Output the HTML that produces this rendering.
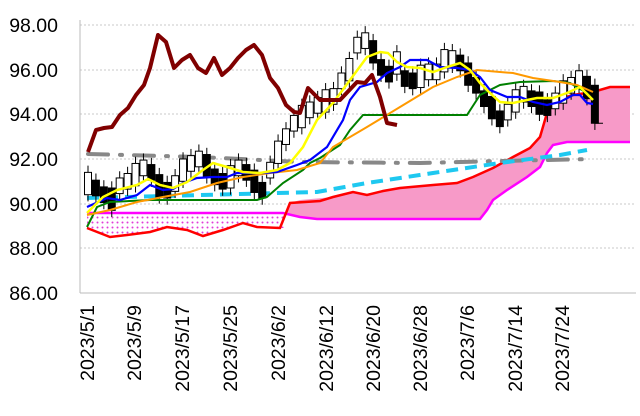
<!DOCTYPE html>
<html><head><meta charset="utf-8"><style>
html,body{margin:0;padding:0;background:#fff;}
svg{display:block;font-family:"Liberation Sans",sans-serif;}
</style></head><body>
<svg id="c" width="640" height="416" viewBox="0 0 640 416" xmlns="http://www.w3.org/2000/svg">
<defs>
<pattern id="dots" width="5" height="5" patternUnits="userSpaceOnUse">
<rect width="5" height="5" fill="#fff"/><circle cx="2.5" cy="2.5" r="1" fill="#e23ad8"/></pattern>
</defs>
<g stroke="#c8c8c8" stroke-width="1" stroke-dasharray="2,2">
<line x1="80" y1="25" x2="636" y2="25"/><line x1="80" y1="70" x2="636" y2="70"/>
<line x1="80" y1="114" x2="636" y2="114"/><line x1="80" y1="159" x2="636" y2="159"/>
<line x1="80" y1="204" x2="636" y2="204"/><line x1="80" y1="248" x2="636" y2="248"/>
</g>
<line x1="80" y1="293" x2="636" y2="293" stroke="#bbb"/>
<line x1="80" y1="20" x2="80" y2="293" stroke="#bbb"/>
<g font-size="19.5" text-anchor="end" fill="#000">
<text x="58" y="32">98.00</text><text x="58" y="77">96.00</text><text x="58" y="121">94.00</text>
<text x="58" y="166">92.00</text><text x="58" y="211">90.00</text><text x="58" y="255">88.00</text>
<text x="58" y="300">86.00</text>
</g>
<g font-size="19.5" fill="#000" text-anchor="end" textLength="83">
<text transform="translate(94,305) rotate(-90)">2023/5/1</text>
<text transform="translate(141,305) rotate(-90)">2023/5/9</text>
<text transform="translate(189,305) rotate(-90)">2023/5/17</text>
<text transform="translate(237,305) rotate(-90)">2023/5/25</text>
<text transform="translate(285,305) rotate(-90)">2023/6/2</text>
<text transform="translate(333,305) rotate(-90)">2023/6/12</text>
<text transform="translate(380,305) rotate(-90)">2023/6/20</text>
<text transform="translate(427,305) rotate(-90)">2023/6/28</text>
<text transform="translate(474,305) rotate(-90)">2023/7/6</text>
<text transform="translate(522,305) rotate(-90)">2023/7/14</text>
<text transform="translate(569,305) rotate(-90)">2023/7/24</text>
</g>
<polygon fill="url(#dots)" points="87,213 285,213 285,228 280,228 257,227 243,223 223,230 203,236 187,230 167,227 150,232 127,235 110,237 87,228"/>
<polygon fill="#f79ac8" points="285,213 300,217 317,219 480,219 487,210 493,200 507,190 527,177 540,167 547,153 553,145 567,142 630,142 630,87 610,87 593,92 573,95 557,100 547,113 540,137 530,148 513,157 493,168 473,177 457,183 433,185 400,188 383,191 367,195 353,192 333,197 300,200 290,203"/>
<polyline fill="none" stroke="#ff00ff" stroke-width="2.5" points="87,213 283,213 300,217 317,219 480,219 487,210 493,200 507,190 527,177 540,167 547,153 553,145 567,142 630,142"/>
<polyline fill="none" stroke="#ff0000" stroke-width="2.5" points="87,228 110,237 127,235 150,232 167,227 187,230 203,236 223,230 243,223 257,227 280,228 290,203 320,201 333,197 353,192 367,195 383,191 400,188 433,185 457,183 473,177 493,168 513,157 530,148 540,137 547,113 557,100 573,95 593,92 610,87 630,87"/>
<polyline fill="none" stroke="#888" stroke-width="4" stroke-dasharray="20,12,2,12" stroke-linecap="round" points="88,154 200,157 300,162 420,163 500,161 593,159"/>
<polyline fill="none" stroke="#1ec8f0" stroke-width="4" stroke-dasharray="12,7" points="87,198 317,192 367,183 433,173 500,163 560,155 587,150"/>
<g id="candles"></g>
<polyline fill="none" stroke="#008000" stroke-width="2" points="87,227 97,207 110,202 150,200 257,200 267,197 283,183 303,170 310,163 320,158 340,145 350,130 363,115 467,115 480,95 500,85 520,82 553,81 570,83 587,93 593,100"/>
<polyline fill="none" stroke="#ff9900" stroke-width="2" points="87,215 110,210 137,202 163,197 190,192 217,183 243,177 270,173 297,170 320,163 333,147 367,127 400,107 433,87 457,77 477,70 500,72 513,73 533,78 560,82 577,85 593,92"/>
<polyline fill="none" stroke="#0000ff" stroke-width="2.2" points="87,207 107,198 120,200 137,195 150,185 163,190 173,189 183,183 197,178 213,177 227,177 237,173 250,173 263,173 277,172 297,165 310,160 327,147 343,120 350,100 360,87 377,82 387,73 400,67 410,60 427,60 440,67 457,68 470,70 480,77 490,90 507,97 520,97 533,102 547,105 560,102 573,95 580,95 587,103 593,104"/>
<polyline fill="none" stroke="#ffff00" stroke-width="2.5" points="87,213 103,197 117,190 137,185 148,179 160,185 173,188 187,182 203,170 213,163 227,167 243,172 260,173 277,170 290,163 303,147 317,120 333,103 350,80 367,57 380,52 388,53 397,62 407,67 420,68 433,72 447,67 460,63 470,70 480,83 490,93 500,102 513,103 527,100 537,98 553,98 567,93 580,87 593,100"/>
<polyline fill="none" stroke="#800000" stroke-width="4" stroke-linejoin="round" points="88,152 96,130 104,128 112,127 120,115 128,108 136,95 144,85 150,68 158,35 166,42 174,68 182,60 190,55 198,68 206,73 214,58 222,75 230,68 238,58 246,50 254,45 262,55 270,78 278,88 286,105 294,112 300,113 308,88 320,100 340,100 357,82 365,83 372,75 380,97 387,123 397,125"/>
</svg>
<script>
(function(){
var m=[90.9,90.7,90.4,90.2,90.8,91.0,91.3,91.6,91.4,90.8,90.6,90.9,91.5,91.8,92.0,91.7,91.2,91.0,91.2,91.6,91.4,91.0,90.6,91.5,92.3,93.0,93.6,93.9,94.2,94.4,94.6,94.8,95.5,96.0,97.1,97.3,96.8,96.1,95.8,96.3,95.6,95.5,95.7,95.9,95.9,96.4,96.5,96.3,95.8,95.3,94.7,94.3,93.8,94.1,94.6,94.9,94.7,94.5,94.3,94.6,95.0,95.3,95.6,95.2,94.4];
function y(v){return 25+(98-v)*22.33;}
var g=document.getElementById('candles'),s='';
for(var i=0;i<m.length;i++){
 var x=88+i*7.92,d=(i%3==0)?0.5:0.35,bl=(i>0&&m[i]<m[i-1]-0.05);
 var o=m[i]+(bl?d:-d),c=m[i]+(bl?-d:d);
 if(i==m.length-1){o=95.3;c=93.6;bl=true;}
 var hi=Math.max(o,c)+0.3,lo=Math.min(o,c)-0.3;
 s+='<line x1="'+x+'" x2="'+x+'" y1="'+y(hi)+'" y2="'+y(lo)+'" stroke="#000" stroke-width="1"/>';
 var t=y(Math.max(o,c)),h=Math.max(1,y(Math.min(o,c))-t);
 s+='<rect x="'+(x-3.5)+'" y="'+t+'" width="7" height="'+h+'" fill="'+(bl?'#000':'#fff')+'" stroke="#000" stroke-width="1"/>';
}
s+='<line x1="595" x2="603" y1="'+y(93.6)+'" y2="'+y(93.6)+'" stroke="#000"/>';
g.innerHTML=s;
})();
</script>
</body></html>
